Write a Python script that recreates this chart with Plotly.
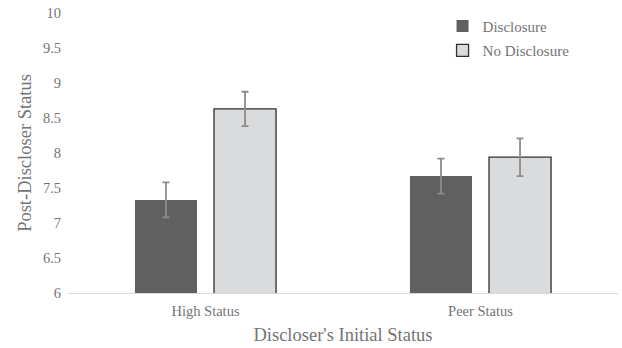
import plotly.graph_objects as go

categories = ["High Status", "Peer Status"]
disclosure = [7.33, 7.67]
disclosure_err = [0.25, 0.25]
no_disclosure = [8.63, 7.94]
no_disclosure_err = [0.245, 0.27]
y_ticks = [6, 6.5, 7, 7.5, 8, 8.5, 9, 9.5, 10]
y_tick_labels = ["6", "6.5", "7", "7.5", "8", "8.5", "9", "9.5", "10"]

font_family = "Liberation Serif, Times New Roman, serif"
text_color = "#747474"

fig = go.Figure()
fig.add_trace(go.Bar(
    name="Disclosure", x=categories, y=disclosure, legendgroup="a",
    marker=dict(color="#606060", line=dict(color="#606060", width=0)),
    error_y=dict(type="data", array=disclosure_err, color="#8c8c8c", thickness=1.8, width=3.5),
))
fig.add_trace(go.Bar(
    name="No Disclosure", x=categories, y=no_disclosure, legendgroup="b",
    marker=dict(color="#dadbdd", line=dict(color="#2e2e2e", width=1.3)),
    error_y=dict(type="data", array=no_disclosure_err, color="#8c8c8c", thickness=1.8, width=3.5),
))

fig.update_layout(
    template="none",
    width=622, height=348,
    margin=dict(l=68, r=4, t=13, b=55, autoexpand=False),
    paper_bgcolor="white", plot_bgcolor="white",
    barmode="group", bargap=0.425, bargroupgap=0.215,
    font=dict(family=font_family, color=text_color, size=14),
    showlegend=True,
    legend=dict(x=0.681, y=1.012, xanchor="left", yanchor="top",
                font=dict(size=15, color=text_color),
                bgcolor="rgba(0,0,0,0)", itemwidth=30, tracegroupgap=2),
    xaxis=dict(
        title=dict(text="Discloser's Initial Status", font=dict(size=18.5, color=text_color), standoff=9),
        showline=True, linecolor="#d9d9d9", linewidth=1, ticklabelstandoff=5,
        ticks="", tickfont=dict(size=14.5, color=text_color), showgrid=False, zeroline=False,
    ),
    yaxis=dict(
        title=dict(text="Post-Discloser Status", font=dict(size=18.5, color=text_color), standoff=6),
        range=[6, 10], tickvals=y_ticks, ticktext=y_tick_labels,
        ticklabeloverflow="allow", ticklabelstandoff=6,
        showgrid=False, zeroline=False, showline=False, ticks="",
        tickfont=dict(size=14.5, color=text_color),
    ),
)

fig.write_html("out.html", config={"displayModeBar": False},
               post_script="document.body.style.margin='0';")
